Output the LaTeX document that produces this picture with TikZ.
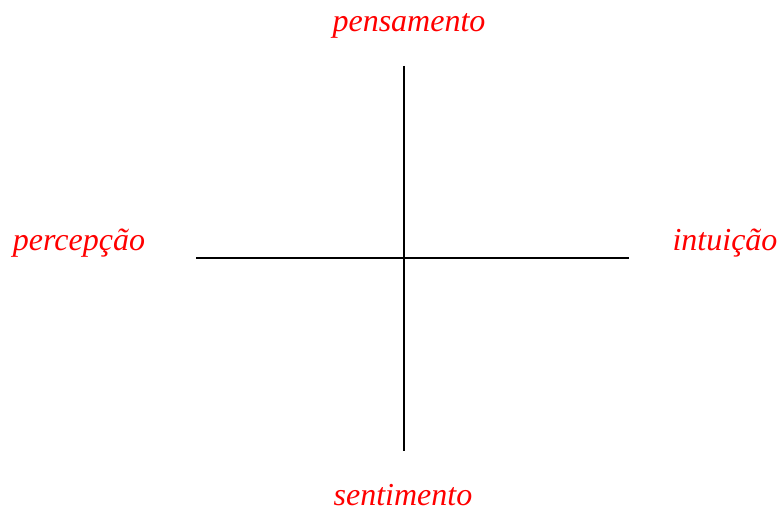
\documentclass[tikz,border=0pt]{standalone}
\usepackage{fontspec}
\setmainfont{Liberation Serif}
\usepackage{xcolor}
\usepackage{tikz}
\usetikzlibrary{positioning}
\definecolor{axisred}{HTML}{FF0000}

\tikzset{
  axislabel/.style={text=axisred, font=\fontsize{16}{19}\selectfont\itshape,
                    inner sep=0pt, anchor=base},
  axisline/.style={draw=black, line width=1pt}
}

\begin{document}
\begin{tikzpicture}[x=0.5pt, y=-0.5pt]
    \useasboundingbox (0,0) rectangle (777,512);
    % ends of the two axes
    \coordinate (top) at (404,66);
    \coordinate (bottom) at (404,451);
    \coordinate (left) at (196,258);
    \coordinate (right) at (629,258);
    \draw[axisline] (top) -- (bottom);
    \draw[axisline] (left) -- (right);
    % the four functions
    \node[axislabel] (pensamento) at (409,32) {pensamento};
    \node[axislabel] (sentimento) at (403,506) {sentimento};
    \node[axislabel] (percepcao) at (79,251) {percepção};
    \node[axislabel] (intuicao) at (725,251) {intuição};
  \end{tikzpicture}
\end{document}
